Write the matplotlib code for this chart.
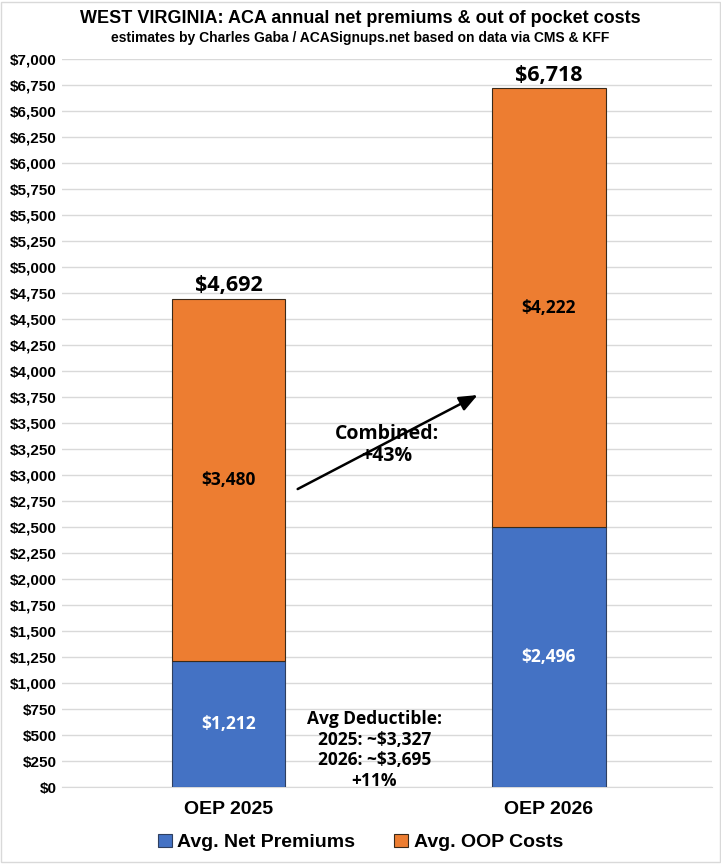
import matplotlib
matplotlib.use("Agg")
import matplotlib.pyplot as plt
from matplotlib.patches import Rectangle
from matplotlib.ticker import MultipleLocator, FuncFormatter

categories = ["OEP 2025", "OEP 2026"]
net_premiums = [1212, 2496]
oop_costs = [3480, 4222]
totals = [4692, 6718]
series_names = ["Avg. Net Premiums", "Avg. OOP Costs"]
title = "WEST VIRGINIA: ACA annual net premiums & out of pocket costs"
subtitle = "estimates by Charles Gaba / ACASignups.net based on data via CMS & KFF"
combined_text = "Combined:\n+43%"
deductible_text = "Avg Deductible:\n2025: ~$3,327\n2026: ~$3,695\n+11%"

NARROW = ["Liberation Sans", "DejaVu Sans"]
LABEL = ["Open Sans", "DejaVu Sans"]
BLUE = "#4472C4"
ORANGE = "#ED7D31"

fig = plt.figure(figsize=(7.21, 8.64), dpi=100)
ax = fig.add_axes([0.086, 0.0891, 0.9015, 0.8426])

x = list(range(len(categories)))
w = 0.355
b1 = ax.bar(x, net_premiums, w, color=BLUE, edgecolor="#2f3f5f", linewidth=0.8, label=series_names[0], zorder=3)
b2 = ax.bar(x, oop_costs, w, bottom=net_premiums, color=ORANGE, edgecolor="#3a2a1a", linewidth=0.8, label=series_names[1], zorder=3)

for i in x:
    ax.text(i, net_premiums[i] / 2, f"${net_premiums[i]:,}", ha="center", va="center",
            color="white", fontsize=12.5, fontweight="bold", family=LABEL, zorder=4)
    ax.text(i, net_premiums[i] + oop_costs[i] / 2, f"${oop_costs[i]:,}", ha="center", va="center",
            color="black", fontsize=12.5, fontweight="bold", family=LABEL, zorder=4)
    ax.annotate(f"${totals[i]:,}", (i, totals[i]), xytext=(0, 2), textcoords="offset points",
                ha="center", va="bottom", fontsize=15.5, fontweight="bold", family=LABEL, zorder=4)

ax.annotate("", xy=(0.778, 3769), xytext=(0.216, 2865),
            arrowprops=dict(arrowstyle="-|>,head_length=1.1,head_width=0.45", color="black", lw=1.8,
                            shrinkA=0, shrinkB=0), zorder=5)
ax.text(0.495, 3290, combined_text, ha="center", va="center", fontsize=14, fontweight="bold",
        family=LABEL, linespacing=1.15, zorder=6)
ax.text(0.455, 355, deductible_text, ha="center", va="center", fontsize=12.5, fontweight="bold",
        family=LABEL, linespacing=1.2, zorder=6)

ax.set_xlim(-0.52, 1.51)
ax.set_ylim(0, 7000)
ax.yaxis.set_major_locator(MultipleLocator(250))
ax.yaxis.set_major_formatter(FuncFormatter(lambda v, p: f"${v:,.0f}"))
ax.grid(axis="y", color="#d9d9d9", linewidth=1, zorder=0)
ax.set_axisbelow(True)
for s in ["top", "right", "left"]:
    ax.spines[s].set_visible(False)
ax.spines["bottom"].set_color("#d9d9d9")
ax.tick_params(axis="both", length=0)
ax.tick_params(axis="y", pad=4)
ax.tick_params(axis="x", pad=10)
ax.set_xticks(x)
ax.set_xticklabels(categories)
for lab in ax.get_yticklabels():
    lab.set_family(NARROW); lab.set_fontweight("bold"); lab.set_fontsize(11)
for lab in ax.get_xticklabels():
    lab.set_family(NARROW); lab.set_fontweight("bold"); lab.set_fontsize(14)

fig.text(0.5, 0.979, title, ha="center", va="center", fontsize=13, fontweight="bold", family=NARROW)
fig.text(0.5, 0.956, subtitle, ha="center", va="center", fontsize=10, fontweight="bold", family=NARROW)

leg = fig.legend(handles=[b1, b2], labels=series_names, loc="center", bbox_to_anchor=(0.5, 0.025),
                 ncol=2, frameon=False, handlelength=0.7, handleheight=0.7, handletextpad=0.3,
                 columnspacing=2.0, prop=dict(family=NARROW, weight="bold", size=14))

fig.patches.append(Rectangle((0.002, 0.002), 0.996, 0.996, transform=fig.transFigure,
                             fill=False, edgecolor="#d9d9d9", linewidth=1))

fig.savefig("out.png", dpi=100)
